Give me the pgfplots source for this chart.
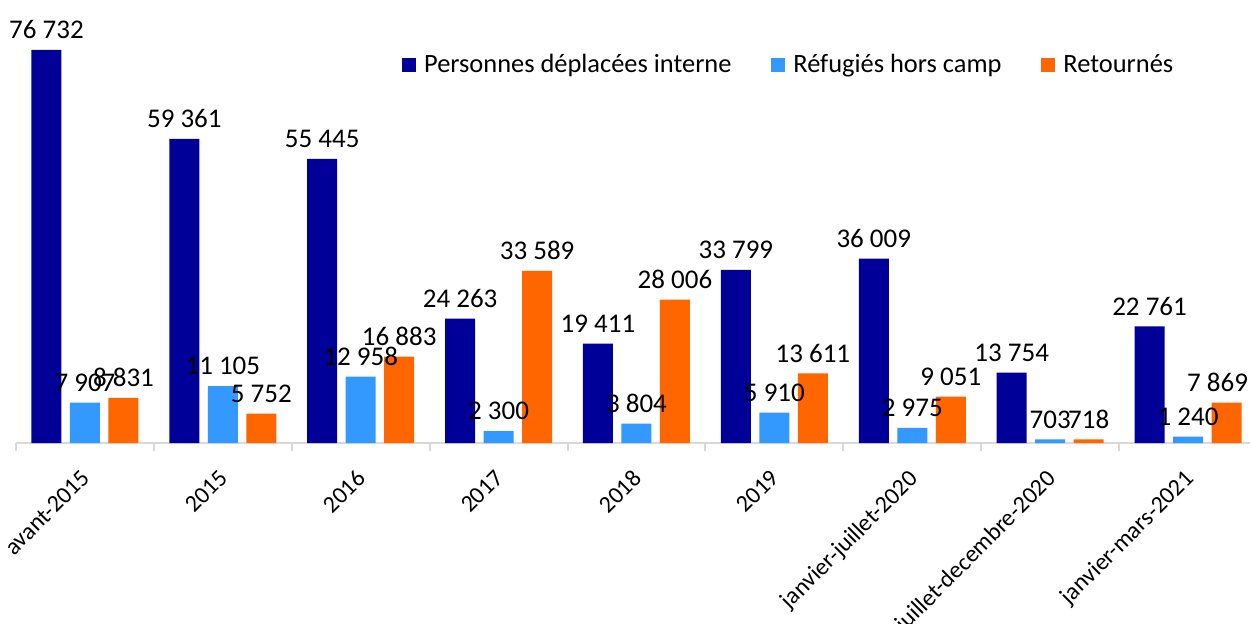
\documentclass[border=0pt]{standalone}
\usepackage{pgfplots}
\pgfplotsset{compat=1.18}
\usepackage{fontspec}
\setmainfont{Carlito}
\definecolor{cNavy}{RGB}{0,0,153}
\definecolor{cLight}{RGB}{51,153,255}
\definecolor{cOrange}{RGB}{255,102,0}
\definecolor{cAxis}{RGB}{217,217,217}
\newcommand{\lbl}{\fontsize{13.5}{16}\selectfont}
\newcommand{\lgd}{\fontsize{13.2}{16}\selectfont}
\newcommand{\tkl}{\fontsize{12}{14}\selectfont}
\begin{document}
\begin{tikzpicture}
\begin{axis}[
  at={(8pt,90pt)}, anchor=south west,
  scale only axis,
  width=620.5pt, height=204.9pt,
  xmin=-0.5, xmax=8.5, ymin=0, ymax=80000,
  ybar, bar width=15pt,
  axis y line=none,
  axis x line*=bottom,
  x axis line style={cAxis, line width=1pt},
  xtick={0,...,8},
  xticklabels={avant-2015,2015,2016,2017,2018,2019,janvier-juillet-2020,juillet-decembre-2020,janvier-mars-2021},
  major tick length=0pt,
  minor xtick={-0.5,0.5,...,8.5},
  minor tick length=4pt,
  tick align=outside,
  minor tick style={cAxis, line width=1pt},
  xticklabel style={xshift=-2.5pt, yshift=-11pt, rotate=45, anchor=north east, font=\tkl, inner sep=1pt},
  /pgf/number format/assume math mode=true,
  /pgf/number format/.cd, fixed, precision=0, 1000 sep={\ }, /pgfplots/.cd,
  nodes near coords,
  every node near coord/.append style={font=\lbl, text=black, yshift=2pt},
  clip=false,
  legend style={at={(0.306,0.922)}, anchor=west, draw=none, fill=none, font=\lgd,
    legend columns=-1,
    /tikz/every odd column/.append style={column sep=2pt},
    /tikz/every even column/.append style={column sep=18pt}},
  legend image code/.code={\fill[#1] (0pt,-3.5pt) rectangle (7pt,3.5pt);},
]
\addplot[fill=cNavy, draw=none, bar shift=-19.25pt] coordinates {
(0,76732) (1,59361) (2,55445) (3,24263) (4,19411) (5,33799) (6,36009) (7,13754) (8,22761)};
\addplot[fill=cLight, draw=none, bar shift=0pt] coordinates {
(0,7907) (1,11105) (2,12958) (3,2300) (4,3804) (5,5910) (6,2975) (7,703) (8,1240)};
\addplot[fill=cOrange, draw=none, bar shift=19.25pt,
  visualization depends on={x \as \xv},
  every node near coord/.append style={xshift={ifthenelse(\xv>7.5,-4.5,0)*1pt}}] coordinates {
(0,8831) (1,5752) (2,16883) (3,33589) (4,28006) (5,13611) (6,9051) (7,718) (8,7869)};
\legend{Personnes déplacées interne, Réfugiés hors camp, Retournés}
\end{axis}
\pgfresetboundingbox
\path[use as bounding box] (0,0) rectangle (625pt,311.5pt);
\end{tikzpicture}
\end{document}
